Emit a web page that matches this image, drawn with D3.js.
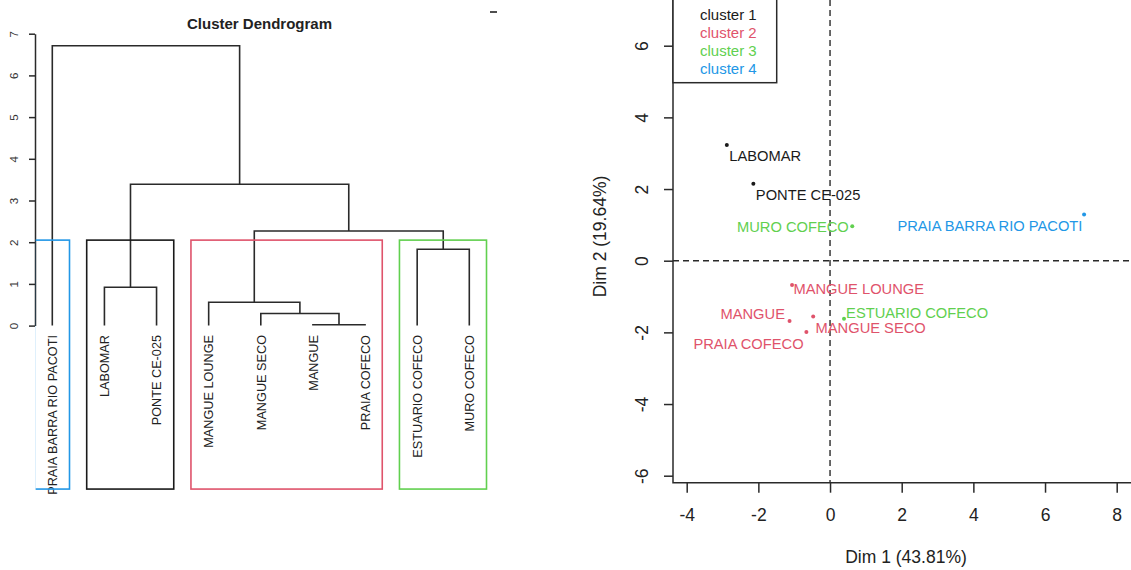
<!DOCTYPE html>
<html>
<head>
<meta charset="utf-8">
<script src="https://cdn.jsdelivr.net/npm/d3@7"></script>
<style>
  body { margin: 0; background: #fff; }
  text { font-family: "Liberation Sans", Arial, sans-serif; }
</style>
</head>
<body>
<svg id="chart" width="1131" height="570"></svg>
<script>
// ---- dendrogram data (leaf order as drawn) ----
const leaves = ["PRAIA BARRA RIO PACOTI", "LABOMAR", "PONTE CE-025", "MANGUE LOUNGE",
  "MANGUE SECO", "MANGUE", "PRAIA COFECO", "ESTUARIO COFECO", "MURO COFECO"]
// hclust style merge table: negative = leaf number, positive = earlier merge row
const merge = [[-6, -7], [-5, 1], [-4, 2], [-2, -3], [-8, -9], [3, 5], [4, 6], [-1, 7]]
const mergeHeight = [0.02, 0.29, 0.56, 0.92, 1.83, 2.27, 3.39, 6.71]
const heightTicks = [0, 1, 2, 3, 4, 5, 6, 7]
// rect.hclust groups, k = 4 (first leaf, last leaf, cluster)
const groups = [[1, 1, 4], [2, 3, 1], [4, 7, 2], [8, 9, 3]]

// ---- PCA individuals ----
const names = ["LABOMAR", "PONTE CE-025", "MURO COFECO", "PRAIA BARRA RIO PACOTI", "MANGUE LOUNGE",
  "ESTUARIO COFECO", "MANGUE", "MANGUE SECO", "PRAIA COFECO"]
const dim1 = [-2.88, -2.14, 0.62, 7.09, -1.06, 0.39, -1.13, -0.47, -0.66]
const dim2 = [3.23, 2.15, 0.96, 1.29, -0.68, -1.62, -1.68, -1.56, -1.99]
const cluster = [1, 1, 3, 4, 2, 3, 2, 2, 2]
const xTicks = [-4, -2, 0, 2, 4, 6, 8]
const yTicks = [-6, -4, -2, 0, 2, 4, 6]
const legendLabels = ["cluster 1", "cluster 2", "cluster 3", "cluster 4"]

const palette = { 1: "#1a1a1a", 2: "#DF536B", 3: "#61D04F", 4: "#2297E6" }

const svg = d3.select("#chart")
const ink = "#2a2a2a"
const plain = d => String(d)   // R style labels, hyphen minus

// ================= left: dendrogram =================
const xLeaf = d3.scaleLinear().domain([1, leaves.length]).range([52.3, 469.3])
const yH = d3.scaleLinear().domain([0, 7]).range([325.6, 33.7])

svg.append("clipPath").attr("id", "dclip")
  .append("rect").attr("x", xLeaf(0.68)).attr("y", 0).attr("width", 470).attr("height", 570)

const left = svg.append("g")

left.append("text")
  .attr("x", 259.5).attr("y", 29)
  .attr("text-anchor", "middle")
  .attr("font-weight", "bold").attr("font-size", 15)
  .attr("fill", "#222")
  .text("Cluster Dendrogram")

const hAxis = left.append("g")
  .attr("transform", "translate(35,0)")
  .call(d3.axisLeft(yH).tickValues(heightTicks).tickSize(6).tickSizeOuter(0).tickFormat(plain))
hAxis.selectAll("path, line").attr("stroke", ink).attr("stroke-width", 1.5)
hAxis.selectAll("text")
  .attr("transform", "rotate(-90)")
  .attr("x", 0).attr("y", -17).attr("dy", 0)
  .attr("text-anchor", "middle")
  .attr("font-size", 11.5).attr("fill", "#333")
  .attr("font-family", "Liberation Sans, Arial, sans-serif")

// compute node positions from merge table
const nodes = []
function nodeOf(k) {
  if (k < 0) return { x: -k, h: 0 }
  return nodes[k - 1]
}
merge.forEach((m, i) => {
  const a = nodeOf(m[0]), b = nodeOf(m[1])
  nodes.push({ x: (a.x + b.x) / 2, h: mergeHeight[i], a, b })
})

left.append("g").selectAll("path")
  .data(nodes)
  .join("path")
  .attr("fill", "none")
  .attr("stroke", ink)
  .attr("stroke-width", 1.6)
  .attr("d", d => `M${xLeaf(d.a.x)},${yH(d.a.h)}V${yH(d.h)}H${xLeaf(d.b.x)}V${yH(d.b.h)}`)

left.append("g").selectAll("text")
  .data(leaves)
  .join("text")
  .attr("transform", (d, i) => `translate(${xLeaf(i + 1)},335) rotate(-90)`)
  .attr("dy", "0.37em")
  .attr("text-anchor", "end")
  .attr("font-size", 12.7)
  .attr("fill", "#222")
  .text(d => d)

// cluster rectangles
const sortedH = mergeHeight.slice().sort((p, q) => q - p)
const cutH = (sortedH[2] + sortedH[3]) / 2
left.append("g").attr("clip-path", "url(#dclip)")
  .selectAll("rect")
  .data(groups)
  .join("rect")
  .attr("x", d => xLeaf(d[0] - 0.34))
  .attr("width", d => xLeaf(d[1] + 0.33) - xLeaf(d[0] - 0.34))
  .attr("y", yH(cutH))
  .attr("height", yH(-3.92) - yH(cutH))
  .attr("fill", "none")
  .attr("stroke", d => palette[d[2]])
  .attr("stroke-width", 1.6)

// stray mark at top
svg.append("line").attr("x1", 490).attr("x2", 497).attr("y1", 12).attr("y2", 12)
  .attr("stroke", "#222").attr("stroke-width", 1.6)

// ================= right: factor map =================
const x = d3.scaleLinear().domain([-4, 8]).range([686.7, 1116.7])
const y = d3.scaleLinear().domain([-6, 6]).range([475.7, 45.7])
const axisX = 673, axisY = 482.7

const right = svg.append("g")

// dashed reference lines
right.append("line")
  .attr("x1", x(0)).attr("x2", x(0)).attr("y1", 0).attr("y2", axisY)
  .attr("stroke", ink).attr("stroke-width", 1.4).attr("stroke-dasharray", "6,4")
right.append("line")
  .attr("x1", axisX).attr("x2", 1131).attr("y1", y(0)).attr("y2", y(0))
  .attr("stroke", ink).attr("stroke-width", 1.4).attr("stroke-dasharray", "6,4")

// frame lines
right.append("path")
  .attr("d", `M${axisX},0V${axisY}H1131`)
  .attr("fill", "none").attr("stroke", ink).attr("stroke-width", 1.5)

const xa = right.append("g")
  .attr("transform", `translate(0,${axisY})`)
  .call(d3.axisBottom(x).tickValues(xTicks).tickSize(10).tickPadding(16).tickFormat(plain))
xa.select(".domain").remove()
xa.selectAll("line").attr("stroke", ink).attr("stroke-width", 1.5)
xa.selectAll("text").attr("font-size", 17.5).attr("fill", "#222")
  .attr("font-family", "Liberation Sans, Arial, sans-serif")

const ya = right.append("g")
  .attr("transform", `translate(${axisX},0)`)
  .call(d3.axisLeft(y).tickValues(yTicks).tickSize(9).tickFormat(plain))
ya.select(".domain").remove()
ya.selectAll("line").attr("stroke", ink).attr("stroke-width", 1.5)
ya.selectAll("text")
  .attr("transform", "rotate(-90)")
  .attr("x", 0).attr("y", -25.5).attr("dy", 0)
  .attr("text-anchor", "middle")
  .attr("font-size", 17.5).attr("fill", "#222")
  .attr("font-family", "Liberation Sans, Arial, sans-serif")

right.append("text")
  .attr("x", 906).attr("y", 563)
  .attr("text-anchor", "middle")
  .attr("font-size", 17.5).attr("fill", "#222")
  .text("Dim 1 (43.81%)")

right.append("text")
  .attr("transform", "translate(600,236.5) rotate(-90)")
  .attr("dy", "0.35em")
  .attr("text-anchor", "middle")
  .attr("font-size", 17.5).attr("fill", "#222")
  .text("Dim 2 (19.64%)")

// points
right.append("g").selectAll("circle")
  .data(names)
  .join("circle")
  .attr("cx", (d, i) => x(dim1[i]))
  .attr("cy", (d, i) => y(dim2[i]))
  .attr("r", 2)
  .attr("fill", (d, i) => palette[cluster[i]])

// label placement around each point (pixels)
const labelOffset = {
  "LABOMAR": [2.4, 16, "start"],
  "PONTE CE-025": [2.5, 16, "start"],
  "MURO COFECO": [-3.5, 6, "end"],
  "PRAIA BARRA RIO PACOTI": [-1.7, 16.4, "end"],
  "MANGUE LOUNGE": [1.4, 9, "start"],
  "ESTUARIO COFECO": [2.1, -0.4, "start"],
  "MANGUE": [-4.6, -2, "end"],
  "MANGUE SECO": [2.4, 16, "start"],
  "PRAIA COFECO": [-2.8, 17.3, "end"]
}

right.append("g").selectAll("text")
  .data(names)
  .join("text")
  .attr("x", (d, i) => x(dim1[i]) + labelOffset[d][0])
  .attr("y", (d, i) => y(dim2[i]) + labelOffset[d][1])
  .attr("text-anchor", d => labelOffset[d][2])
  .attr("font-size", 14.7)
  .attr("fill", (d, i) => palette[cluster[i]])
  .text(d => d)

// legend
const lg = right.append("g")
lg.append("rect")
  .attr("x", axisX).attr("y", -10)
  .attr("width", 776.7 - axisX).attr("height", 82.7 + 10)
  .attr("fill", "#fff").attr("stroke", ink).attr("stroke-width", 1.5)
lg.selectAll("text")
  .data(legendLabels)
  .join("text")
  .attr("x", 700)
  .attr("y", (d, i) => 15 + i * 18)
  .attr("dy", "0.35em")
  .attr("font-size", 15)
  .attr("fill", (d, i) => palette[i + 1])
  .text(d => d)
</script>
</body>
</html>
